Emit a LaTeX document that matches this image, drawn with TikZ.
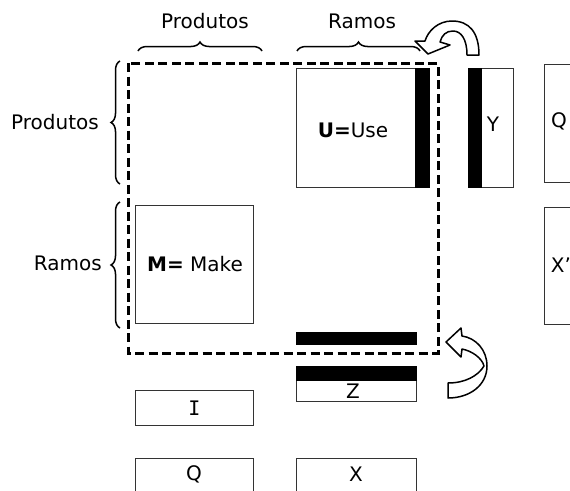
\documentclass[tikz,border=0pt]{standalone}
\usepackage{fontspec}
\setmainfont{DejaVu Sans}
\newfontfamily\monoI{DejaVu Sans Mono}
\usetikzlibrary{decorations.pathreplacing}
\begin{document}
\begin{tikzpicture}[x=1pt,y=-1pt,
  box/.style={draw=black!80, line width=1pt, fill=white, inner sep=0pt},
  bar/.style={draw=black, fill=black, inner sep=0pt, line width=0.5pt},
  lbl/.style={font=\fontsize{20}{24}\selectfont, inner sep=0pt},
  hollowarrow/.style={draw=black, line width=1.5pt, fill=white, line join=round},
  frame/.style={draw=black, line width=3pt, dash pattern=on 9pt off 4.5pt},
  bracestyle/.style={decorate, decoration={brace, amplitude=9pt}, line width=1.5pt}]
\useasboundingbox (0,0) rectangle (570,490);
\clip (0,0) rectangle (570,490);

% dashed frame
\draw[frame] (128,63) rectangle (438,353);

% U box
\node[box, minimum width=132pt, minimum height=119pt, anchor=north west] (U) at (296,68) {};
\node[bar, minimum width=14pt, minimum height=119pt, anchor=north east] (Ubar) at (U.north east) {};
\node[lbl] (Ut) at (353,130) {\textbf{U=}Use};

% Y box
\node[box, minimum width=45pt, minimum height=119pt, anchor=north west] (Y) at (468,68) {};
\node[bar, minimum width=13pt, minimum height=119pt, anchor=north west] (Ybar) at (Y.north west) {};
\node[lbl] (Yt) at (493,124) {Y};

% Q right box
\node[box, minimum width=60pt, minimum height=118pt, anchor=north west] (Qr) at (544,64) {};
\node[lbl] (Qrt) at (559,121) {Q};

% X' box
\node[box, minimum width=60pt, minimum height=117pt, anchor=north west] (Xr) at (544,207) {};
\node[lbl] (Xrt) at (561,265) {X’};

% M box
\node[box, minimum width=118pt, minimum height=118pt, anchor=north west] (M) at (135,205) {};
\node[lbl] (Mt) at (195,264) {\textbf{M=} Make};

% bar above Z
\node[bar, minimum width=120pt, minimum height=12pt, anchor=north west] (Zbar) at (296,332) {};

% Z box
\node[box, minimum width=120pt, minimum height=35pt, anchor=north west] (Z) at (296,366) {};
\node[bar, minimum width=120pt, minimum height=14pt, anchor=north west] (Ztop) at (Z.north west) {};
\node[lbl] (Zt) at (353,391) {Z};

% I box
\node[box, minimum width=118pt, minimum height=35pt, anchor=north west] (I) at (135,390) {};
\node[lbl] (It) at (I.center) {\monoI I};

% bottom Q and X boxes
\node[box, minimum width=118pt, minimum height=50pt, anchor=north west] (Qb) at (135,458) {};
\node[lbl] (Qbt) at (194,474) {Q};
\node[box, minimum width=120pt, minimum height=50pt, anchor=north west] (Xb) at (296,458) {};
\node[lbl] (Xbt) at (356,474) {X};

% braces and labels
\draw[bracestyle] (138,51) -- (262,51);
\node[lbl] (Ptop) at (205,21) {Produtos};
\draw[bracestyle] (297,51) -- (420,51);
\node[lbl] (Rtop) at (362,21) {Ramos};
\draw[bracestyle] (120,184) -- (120,61);
\node[lbl, anchor=east] (Pleft) at (99,122) {Produtos};
\draw[bracestyle] (120,328) -- (120,202);
\node[lbl, anchor=east] (Rleft) at (102,263) {Ramos};

% curved hollow arrows
\draw[hollowarrow] (467,55) -- (479,55)
  .. controls (479,32) and (469,21) .. (452,21)
  .. controls (438,21) and (428,31) .. (425,41)
  -- (415,41) -- (428,54) -- (450,45) -- (440,42)
  .. controls (442,35) and (446,31) .. (453,31)
  .. controls (461,31) and (467,39) .. (467,55) -- cycle;

\draw[hollowarrow] (448,383) -- (448,398)
  .. controls (470,398) and (487,385) .. (487,366)
  .. controls (487,350) and (476,338) .. (462,336)
  -- (461,328) -- (446,342) -- (461,357) -- (462,349)
  .. controls (472,351) and (482,358) .. (484,366)
  .. controls (478,376) and (465,383) .. (448,383) -- cycle;
\end{tikzpicture}
\end{document}
